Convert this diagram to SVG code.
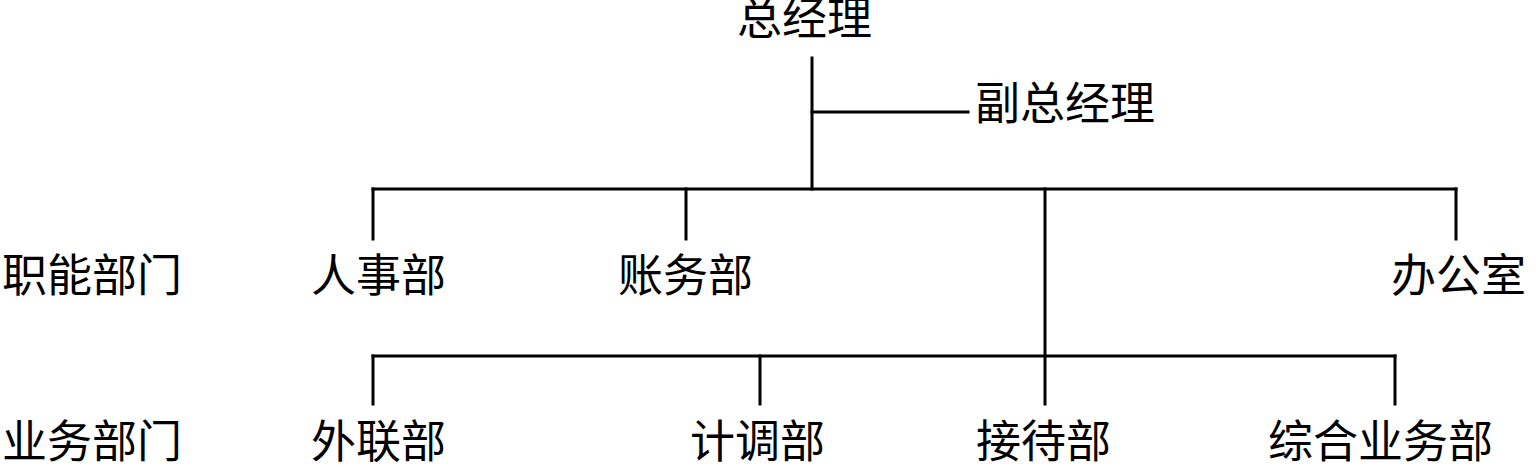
<svg xmlns="http://www.w3.org/2000/svg" width="1536" height="467" viewBox="0 0 1536 467">
<style>
text{font-family:"Noto Sans CJK SC","Noto Sans CJK JP",sans-serif;font-size:45px;fill:#000}
.c line{stroke:#000;stroke-width:3;stroke-linecap:square}
</style>
<rect width="1536" height="467" fill="#fff"/>
<g class="c" id="connectors">
<line x1="812" y1="58" x2="812" y2="189"/>
<line x1="812" y1="112" x2="968" y2="112"/>
<line x1="373" y1="189" x2="1456" y2="189"/>
<line x1="373" y1="189" x2="373" y2="239"/>
<line x1="686" y1="189" x2="686" y2="239"/>
<line x1="1456" y1="189" x2="1456" y2="239"/>
<line x1="1045" y1="189" x2="1045" y2="404"/>
<line x1="373" y1="356" x2="1395" y2="356"/>
<line x1="373" y1="356" x2="373" y2="404"/>
<line x1="760" y1="356" x2="760" y2="404"/>
<line x1="1395" y1="356" x2="1395" y2="404"/>
</g>
<g id="gm"><text x="737" y="35">总经理</text></g>
<g id="dgm"><text x="975" y="120">副总经理</text></g>
<g id="label-func"><text x="2" y="292">职能部门</text></g>
<g id="hr"><text x="311" y="292">人事部</text></g>
<g id="acct"><text x="618" y="292">账务部</text></g>
<g id="office"><text x="1391" y="292">办公室</text></g>
<g id="label-biz"><text x="2" y="458">业务部门</text></g>
<g id="liaison"><text x="311" y="458">外联部</text></g>
<g id="planning"><text x="690" y="458">计调部</text></g>
<g id="reception"><text x="976" y="458">接待部</text></g>
<g id="general"><text x="1268" y="458">综合业务部</text></g>
</svg>
